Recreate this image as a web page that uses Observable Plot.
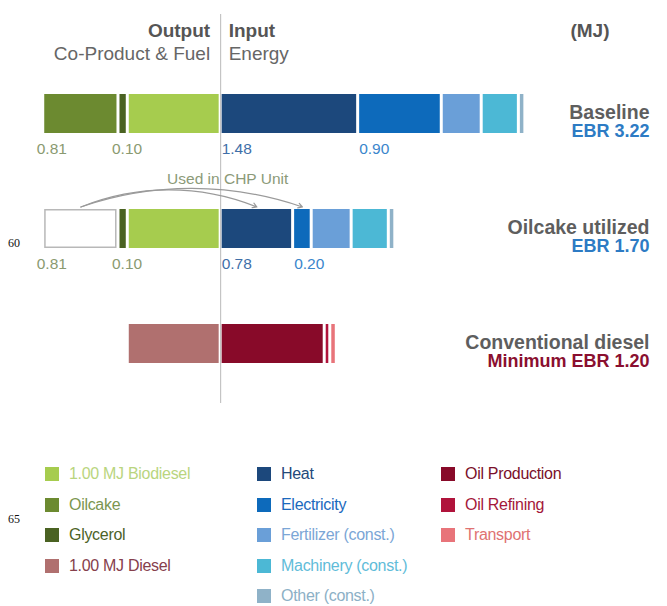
<!DOCTYPE html>
<html>
<head>
<meta charset="utf-8">
<script src="https://cdn.jsdelivr.net/npm/d3@7"></script>
<script src="https://cdn.jsdelivr.net/npm/@observablehq/plot@0.6"></script>
<style>
  body { margin: 0; background: #fff; }
  #figure {
    position: relative; width: 667px; height: 606px; overflow: hidden;
    font-family: "Liberation Sans", Arial, sans-serif;
  }
  #figure svg { position: absolute; left: 0; top: 0; }
  .key { position: absolute; display: flex; align-items: center; font-size: 16px; line-height: 18px; white-space: nowrap; letter-spacing: -0.3px; }
  .key i { display: inline-block; width: 14px; height: 14px; margin-right: 10px; }
  .folio { position: absolute; left: 8px; font-family: "Liberation Serif", "DejaVu Serif", serif; font-size: 12px; color: #111; }
</style>
</head>
<body>
<div id="figure"></div>
<script>
// Scenarios (rows)
const rows = ["Baseline", "Oilcake utilized", "Conventional diesel"];
const ratioLabels = ["EBR 3.22", "EBR 1.70", "Minimum EBR 1.20"];
const ratioColors = ["#2d7bc4", "#2d7bc4", "#8a0f30"];

// Output side (co-products & fuel), listed outward from the axis
const outputNames = ["1.00 MJ Biodiesel", "Glycerol", "Oilcake"];
const baselineOutput = [1.00, 0.10, 0.81];
const oilcakeOutput = [1.00, 0.10, 0.81];
const dieselOutputNames = ["1.00 MJ Diesel"];
const dieselOutput = [1.00];

// Input side (energy), listed outward from the axis
const inputNames = ["Heat", "Electricity", "Fertilizer (const.)", "Machinery (const.)", "Other (const.)"];
const baselineInput = [1.48, 0.90, 0.43, 0.40, 0.07];
const oilcakeInput = [0.78, 0.20, 0.43, 0.40, 0.07];
const dieselInputNames = ["Oil Production", "Oil Refining", "Transport"];
const dieselInput = [1.12, 0.06, 0.07];

// Categories with bar colours and legend text colours
const categories = ["1.00 MJ Biodiesel", "Oilcake", "Glycerol", "1.00 MJ Diesel",
  "Heat", "Electricity", "Fertilizer (const.)", "Machinery (const.)", "Other (const.)",
  "Oil Production", "Oil Refining", "Transport"];
const barColors = ["#a6cc4e", "#6c8a30", "#4a6222", "#b0706f",
  "#1c487c", "#0d6abb", "#6a9fd8", "#4cb8d5", "#8fb2c8",
  "#880a29", "#b0133b", "#e8747a"];
const keyTextColors = ["#b9d57e", "#7b9650", "#4d6328", "#86404c",
  "#23497a", "#1b69bd", "#7ba6d6", "#5fbcd9", "#8cb0c6",
  "#7a0f2a", "#a4173a", "#e07272"];
const legendColumns = [
  ["1.00 MJ Biodiesel", "Oilcake", "Glycerol", "1.00 MJ Diesel"],
  ["Heat", "Electricity", "Fertilizer (const.)", "Machinery (const.)", "Other (const.)"],
  ["Oil Production", "Oil Refining", "Transport"]
];

// Segments whose values are printed under the bars
const labeledNames = ["Oilcake", "Glycerol", "Heat", "Electricity"];
const valueLabelColors = {"Oilcake": "#8a9a70", "Glycerol": "#8a9a70", "Heat": "#3f6fa8", "Electricity": "#3a86cc"};

// Build stacked segments: output grows left of zero, input grows right
function stack(row, names, values, sign) {
  let acc = 0;
  return names.map((name, i) => {
    const a = acc;
    acc += values[i];
    return {row, name, value: values[i], x1: sign * a, x2: sign * acc,
            hollow: row === "Oilcake utilized" && name === "Oilcake"};
  });
}
const segs = [
  ...stack(rows[0], outputNames, baselineOutput, -1),
  ...stack(rows[0], inputNames, baselineInput, 1),
  ...stack(rows[1], outputNames, oilcakeOutput, -1),
  ...stack(rows[1], inputNames, oilcakeInput, 1),
  ...stack(rows[2], dieselOutputNames, dieselOutput, -1),
  ...stack(rows[2], dieselInputNames, dieselInput, 1)
];
const labels = segs.filter(d => d.row !== rows[2] && labeledNames.includes(d.name))
  .map(d => ({...d, start: Math.min(d.x1, d.x2)}));
const outLabels = labels.filter(d => d.x2 < 0);
const inLabels = labels.filter(d => d.x2 > 0);

// Oilcake burnt in the CHP unit feeds heat and electricity
const mid = d => (d.x1 + d.x2) / 2;
const seg = (row, name) => segs.find(d => d.row === row && d.name === name);
const chpFrom = mid(seg(rows[1], "Oilcake"));
const toHeat = [{row: rows[1], x1: chpFrom, x2: mid(seg(rows[1], "Heat"))}];
const toPower = [{row: rows[1], x1: chpFrom, x2: mid(seg(rows[1], "Electricity"))}];

const font = '"Liberation Sans", Arial, sans-serif';
const valueText = {y: "row", text: d => d.value.toFixed(2), textAnchor: "start", dy: 35,
  fill: d => valueLabelColors[d.name], fontSize: 15.5, letterSpacing: -0.3};

const chart = Plot.plot({
  width: 667,
  height: 440,
  margin: 0,
  style: {fontFamily: font, background: "transparent"},
  x: {domain: [-2.37, 4.81], axis: null},
  y: {type: "band", domain: rows, range: [56, 401], paddingInner: 0.66, paddingOuter: 0.33, axis: null},
  color: {domain: categories, range: barColors},
  marks: [
    Plot.ruleX([0], {stroke: "#b9b9b9", strokeWidth: 1, insetTop: 14, insetBottom: 37}),
    Plot.barX(segs.filter(d => !d.hollow), {x1: "x1", x2: "x2", y: "row", fill: "name", insetLeft: 1.5, insetRight: 1.5}),
    Plot.barX(segs.filter(d => d.hollow), {x1: "x1", x2: "x2", y: "row", fill: "white", stroke: "#b8b8b8", strokeWidth: 1.5, insetLeft: 2.2, insetRight: 2.2, insetTop: 0.75, insetBottom: 0.75}),
    // values under the bars
    Plot.text(outLabels, {...valueText, x: "start", dx: -6.5}),
    Plot.text(inLabels, {...valueText, x: "start", dx: 1}),
    // CHP annotation
    Plot.arrow(toHeat, {x1: "x1", x2: "x2", y: "row", dy: -22, bend: 22, stroke: "#9a9a9a", strokeWidth: 1.2, headLength: 6}),
    Plot.arrow(toPower, {x1: "x1", x2: "x2", y: "row", dy: -22, bend: 19, stroke: "#9a9a9a", strokeWidth: 1.2, headLength: 6}),
    Plot.text(["Used in CHP Unit"], {x: 0, y: () => rows[1], text: d => d, dx: 7, dy: -50, fill: "#8b9a78", fontSize: 15.5, letterSpacing: -0.3}),
    // headings
    Plot.text(["Output"], {x: 0, frameAnchor: "top", text: d => d, textAnchor: "end", dx: -10.5, dy: 23, fontSize: 19, fontWeight: "bold", fill: "#555", letterSpacing: -0.4}),
    Plot.text(["Co-Product & Fuel"], {x: 0, frameAnchor: "top", text: d => d, textAnchor: "end", dx: -10.5, dy: 46, fontSize: 19, fill: "#666", letterSpacing: -0.4}),
    Plot.text(["Input"], {x: 0, frameAnchor: "top", text: d => d, textAnchor: "start", dx: 8, dy: 23, fontSize: 19, fontWeight: "bold", fill: "#555", letterSpacing: -0.4}),
    Plot.text(["Energy"], {x: 0, frameAnchor: "top", text: d => d, textAnchor: "start", dx: 8, dy: 46, fontSize: 19, fill: "#666", letterSpacing: -0.4}),
    Plot.text(["(MJ)"], {frameAnchor: "top-right", text: d => d, textAnchor: "end", dx: -58, dy: 23, fontSize: 19, fontWeight: "bold", fill: "#555", letterSpacing: -0.4}),
    // scenario names and energy balance ratios
    Plot.text(rows, {y: d => d, text: d => d, frameAnchor: "right", textAnchor: "end", dx: -18, dy: -1, fontSize: 19.5, fontWeight: "bold", fill: "#5e5e5e", letterSpacing: -0.5}),
    Plot.text(rows.map((r, i) => ({r, t: ratioLabels[i], c: ratioColors[i]})), {y: "r", text: "t", fill: "c", frameAnchor: "right", textAnchor: "end", dx: -18, dy: 17.5, fontSize: 18, fontWeight: "bold", letterSpacing: -0.5})
  ]
});

const fig = document.getElementById("figure");
fig.appendChild(chart);

// Legend
const colLeft = [45, 257, 441];
legendColumns.forEach((col, c) => {
  col.forEach((name, r) => {
    const k = categories.indexOf(name);
    const el = document.createElement("div");
    el.className = "key";
    el.style.left = colLeft[c] + "px";
    el.style.top = (465 + r * 30.5) + "px";
    const sw = document.createElement("i");
    sw.style.background = barColors[k];
    el.appendChild(sw);
    const tx = document.createElement("span");
    tx.textContent = name;
    tx.style.color = keyTextColors[k];
    el.appendChild(tx);
    fig.appendChild(el);
  });
});

// Page folio numbers in the margin
[["60", 236], ["65", 512]].forEach(([t, y]) => {
  const f = document.createElement("div");
  f.className = "folio";
  f.style.top = y + "px";
  f.textContent = t;
  fig.appendChild(f);
});
</script>
</body>
</html>
